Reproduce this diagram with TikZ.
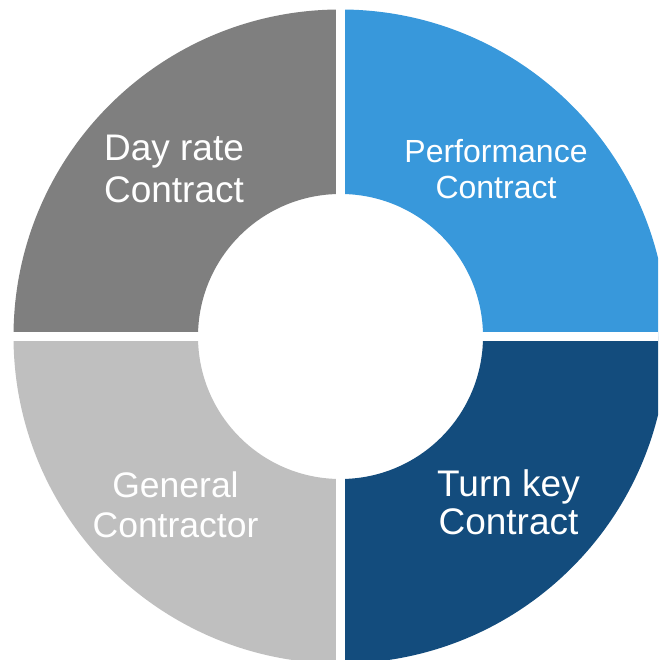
\documentclass[tikz,border=0pt]{standalone}
\usepackage{fontspec}
\setmainfont{Liberation Sans}
\usetikzlibrary{positioning}
\definecolor{dayrategrey}{HTML}{7F7F7F}
\definecolor{perfblue}{HTML}{3898DB}
\definecolor{generalgrey}{HTML}{BFBFBF}
\definecolor{turnkeyblue}{HTML}{134C7D}

\begin{document}
\begin{tikzpicture}[x=1pt, y=1pt]
% Define styles
\tikzstyle{quadtext} = [text=white, align=center, inner sep=0pt]
\tikzstyle{gap} = [draw=white, line width=9pt]
\def\rout{327}
\def\rin{142.5}

\useasboundingbox (0,0) rectangle (658,660);
\clip (0,0) rectangle (658,660);

% Quadrants
\coordinate (c) at (340.5,323.5);
\fill[perfblue] ([xshift=\rout pt]c) arc (0:90:\rout) -- ([yshift=\rin pt]c) arc (90:0:\rin) -- cycle;
\fill[dayrategrey] ([yshift=\rout pt]c) arc (90:180:\rout) -- ([xshift=-\rin pt]c) arc (180:90:\rin) -- cycle;
\fill[generalgrey] ([xshift=-\rout pt]c) arc (180:270:\rout) -- ([yshift=-\rin pt]c) arc (270:180:\rin) -- cycle;
\fill[turnkeyblue] ([yshift=-\rout pt]c) arc (270:360:\rout) -- ([xshift=\rin pt]c) arc (360:270:\rin) -- cycle;

% Gaps
\draw[gap] (340.5,0) -- (340.5,660);
\draw[gap] (0,323.3) -- (658,323.3);

% Nodes
\node (dayrate) [quadtext, font=\fontsize{37}{41.5}\selectfont] at (174,491) {Day rate\\Contract};
\node (performance) [quadtext, font=\fontsize{32}{36}\selectfont] at (496,491) {Performance\\Contract};
\node (general) [quadtext, font=\fontsize{35.5}{40}\selectfont] at (175.5,155) {General\\Contractor};
\node (turnkey) [quadtext, font=\fontsize{37}{38.5}\selectfont] at (508.5,157.5) {Turn key\\Contract};
\end{tikzpicture}
\end{document}
